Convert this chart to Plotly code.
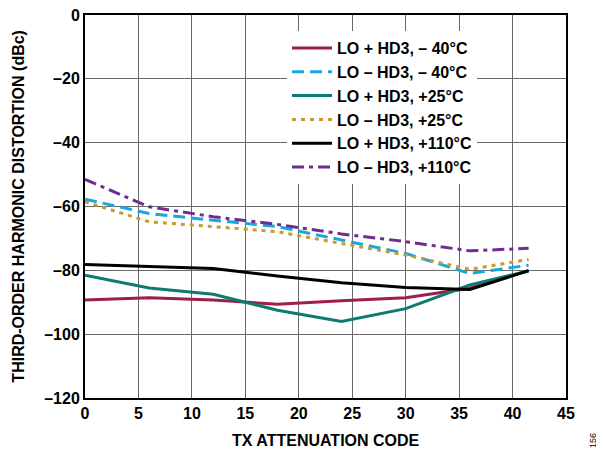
import plotly.graph_objects as go

codes = [0, 6, 12, 18, 24, 30, 36, 41.5]
lo_plus_m40 = [-89.3, -88.6, -89.3, -90.6, -89.5, -88.6, -85.6, -80.1]
lo_minus_m40 = [-57.7, -62.2, -64.3, -66.3, -70.5, -74.7, -81.0, -78.4]
lo_plus_25 = [-81.5, -85.5, -87.5, -92.5, -96.0, -92.0, -84.6, -80.2]
lo_minus_25 = [-58.5, -64.8, -66.3, -67.9, -71.6, -75.2, -79.7, -76.6]
lo_plus_110 = [-78.2, -78.9, -79.4, -81.8, -83.9, -85.4, -86.0, -80.1]
lo_minus_110 = [-51.5, -60.1, -63.2, -65.6, -68.6, -71.0, -73.9, -73.1]

names = ["LO + HD3, \u2013 40\u00b0C", "LO \u2013 HD3, \u2013 40\u00b0C", "LO + HD3, +25\u00b0C",
         "LO \u2013 HD3, +25\u00b0C", "LO + HD3, +110\u00b0C", "LO \u2013 HD3, +110\u00b0C"]
series = [lo_plus_m40, lo_minus_m40, lo_plus_25, lo_minus_25, lo_plus_110, lo_minus_110]
colors = ["#9C1F4C", "#1AA7DD", "#0E7A72", "#C99A2E", "#000000", "#6F2C91"]
dashes = ["solid", "12px,6px", "solid", "4px,5px", "solid", "12px,5px,4px,5px"]

fig = go.Figure()
for n, s, c, d in zip(names, series, colors, dashes):
    fig.add_trace(go.Scatter(x=codes, y=s, name=n, mode="lines",
                             line=dict(color=c, width=3, dash=d)))

FAM = "Liberation Sans, Arial"
tickfont = dict(family=FAM, size=16, color="black", weight="bold")
axis_common = dict(showgrid=True, gridcolor="#6a6a6a", gridwidth=1.3, zeroline=False,
                   showline=True, linecolor="black", linewidth=2, mirror=True,
                   ticks="", tickfont=tickfont, automargin=False, ticklabeloverflow="allow")
fig.update_layout(
    width=596, height=446,
    margin=dict(l=77, r=38, t=7, b=56),
    plot_bgcolor="white", paper_bgcolor="white",
    font=dict(family=FAM, size=16, color="black"),
    xaxis=dict(range=[0, 45], dtick=5, **axis_common),
    yaxis=dict(range=[-120, 0],
               tickvals=[-120, -100, -80, -60, -40, -20, 0],
               ticktext=["\u2013120", "\u2013100", "\u201380", "\u201360", "\u201340", "\u201320", "0"],
               **axis_common),
    legend=dict(x=0.42, y=0.958, xanchor="left", yanchor="top", bgcolor="white",
                font=dict(family=FAM, size=16, color="black", weight="bold"),
                tracegroupgap=0, itemwidth=40),
    showlegend=True,
)
fig.add_annotation(text="<b>TX ATTENUATION CODE</b>", xref="paper", yref="paper", x=0.5, y=-0.112,
                   xanchor="center", yanchor="middle", showarrow=False,
                   font=dict(family=FAM, size=16, color="black"))
fig.add_annotation(text="<b>THIRD-ORDER HARMONIC DISTORTION (dBc)</b>", xref="paper", yref="paper",
                   x=-0.139, y=0.5, xanchor="center", yanchor="middle", textangle=-90, showarrow=False,
                   font=dict(family=FAM, size=16, color="black"))
fig.add_annotation(text="156", xref="paper", yref="paper", x=1.056, y=-0.11, showarrow=False,
                   xanchor="center", yanchor="middle",
                   textangle=-90, font=dict(family=FAM, size=9, color="black"))
fig.write_html("out.html", config={"displayModeBar": False})
